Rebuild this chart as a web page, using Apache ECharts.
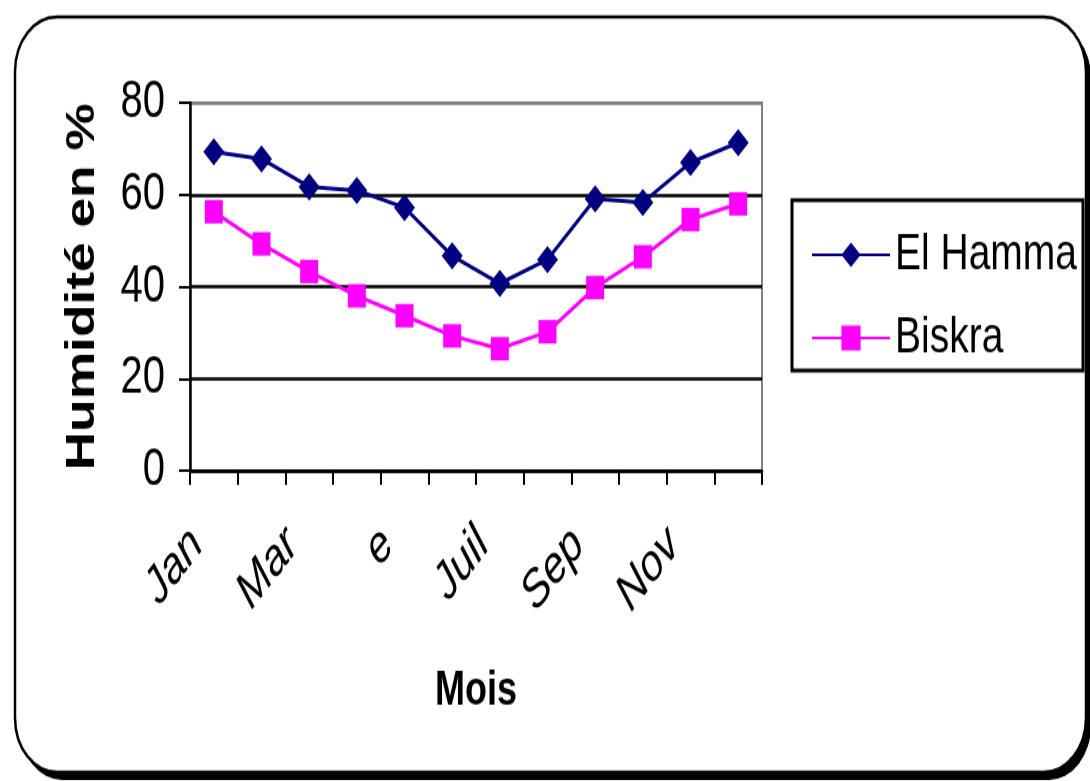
<!DOCTYPE html>
<html>
<head>
<meta charset="utf-8">
<title>Humidité mensuelle</title>
<script src="https://cdn.jsdelivr.net/npm/echarts@6/dist/echarts.min.js"></script>
<style>
  html, body { margin: 0; padding: 0; background: #ffffff; width: 1090px; height: 781px; overflow: hidden; }
  #wrap { width: 1090px; height: 781px; position: relative; }
  /* the chart is laid out on a shorter canvas and stretched vertically */
  #chart { position: absolute; left: 0; top: 0; width: 1090px; height: 601px; transform: scaleY(1.3); transform-origin: 0 0; }
</style>
</head>
<body>
<div id="wrap"><div id="chart"></div></div>
<script>
// Mois de l'année (un libellé sur deux est affiché)
const months = ['Jan', 'Fév', 'Mar', 'Avr', 'e', 'Juin', 'Juil', 'Août', 'Sep', 'Oct', 'Nov', 'Déc'];

// Humidité relative moyenne mensuelle (%)
const elHamma = [69.3, 67.8, 61.7, 60.9, 57.2, 46.7, 40.7, 45.9, 59.1, 58.3, 67.0, 71.3];
const biskra  = [56.3, 49.3, 43.3, 38.0, 33.7, 29.3, 26.5, 30.2, 39.8, 46.5, 54.6, 58.0];

// Graduations de l'axe des ordonnées
const yTicks = [0, 20, 40, 60, 80];

const FONT = "'Liberation Sans', Arial, sans-serif";

const chart = echarts.init(document.getElementById('chart'), null, { renderer: 'canvas' });

chart.setOption({
  animation: false,
  backgroundColor: 'transparent',
  graphic: [
    {
      // ombre portée du cadre
      type: 'rect',
      z: -11,
      shape: { x: 20, y: 18, width: 1071, height: 582, r: 42 },
      style: { fill: '#000000' }
    },
    {
      // cadre arrondi
      type: 'rect',
      z: -10,
      shape: { x: 15, y: 13, width: 1071, height: 581, r: 42 },
      style: { fill: '#ffffff', stroke: '#000000', lineWidth: 2.5 }
    },
    {
      // encadré de la légende
      type: 'rect',
      z: 5,
      shape: { x: 792, y: 154, width: 291, height: 131 },
      style: { fill: 'none', stroke: '#000000', lineWidth: 3 }
    }
  ],
  legend: {
    orient: 'vertical',
    left: 806,
    top: 168,
    itemWidth: 78,
    itemHeight: 24,
    itemGap: 18,
    data: ['El Hamma', 'Biskra'],
    textStyle: { fontFamily: FONT, fontSize: 39, color: '#000000', lineHeight: 46 }
  },
  grid: {
    left: 190,
    right: 328,
    top: 79,
    bottom: 239,
    show: true,
    borderColor: '#808080',
    borderWidth: 2,
    backgroundColor: 'transparent'
  },
  xAxis: {
    type: 'category',
    data: months,
    boundaryGap: true,
    name: 'Mois',
    nameLocation: 'middle',
    nameGap: 152,
    nameTextStyle: { fontFamily: FONT, fontSize: 36, fontWeight: 'bold', color: '#000000', verticalAlign: 'top' },
    axisLine: { show: true, lineStyle: { color: '#000000', width: 2.5 } },
    axisTick: { show: true, interval: 0, length: 11, alignWithLabel: false, lineStyle: { color: '#000000', width: 2 } },
    axisLabel: {
      interval: 1,
      rotate: 45,
      margin: 34,
      padding: [0, 24, 0, 0],
      fontFamily: FONT,
      fontSize: 40,
      fontStyle: 'italic',
      color: '#000000'
    },
    splitLine: { show: false }
  },
  yAxis: {
    type: 'value',
    min: yTicks[0],
    max: yTicks[yTicks.length - 1],
    interval: 20,
    name: 'Humidité en %',
    nameLocation: 'middle',
    nameGap: 87,
    nameRotate: 90,
    nameTextStyle: { fontFamily: FONT, fontSize: 41, fontWeight: 'bold', color: '#000000' },
    axisLine: { show: true, lineStyle: { color: '#000000', width: 2.5 } },
    axisTick: { show: true, length: 11, lineStyle: { color: '#000000', width: 2 } },
    axisLabel: { margin: 25, fontFamily: FONT, fontSize: 40, color: '#000000' },
    splitLine: {
      show: true,
      lineStyle: { color: ['#000000', '#000000', '#000000', '#000000', '#808080'], width: 2.5 }
    }
  },
  series: [
    {
      name: 'El Hamma',
      type: 'line',
      data: elHamma,
      symbol: 'diamond',
      symbolSize: 21,
      color: '#000080',
      lineStyle: { color: '#000080', width: 3 },
      itemStyle: { color: '#000080' },
      z: 3
    },
    {
      name: 'Biskra',
      type: 'line',
      data: biskra,
      symbol: 'rect',
      symbolSize: 18,
      color: '#ff00ff',
      lineStyle: { color: '#ff00ff', width: 3 },
      itemStyle: { color: '#ff00ff' },
      z: 3
    }
  ]
});
</script>
</body>
</html>
